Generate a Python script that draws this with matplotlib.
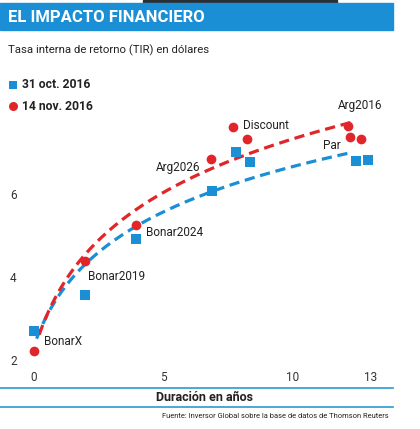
import numpy as np
import matplotlib.pyplot as plt
from matplotlib.patches import Rectangle
from matplotlib.lines import Line2D

# duracion (años) y TIR (%)
dur_oct = [0.0, 1.97, 3.94, 6.87, 7.80, 8.34, 12.43, 12.90]
tir_oct = [2.70, 3.57, 4.92, 6.07, 7.01, 6.77, 6.80, 6.82]
dur_nov = [0.0, 1.97, 3.94, 6.83, 7.68, 8.22, 12.12, 12.20, 12.63]
tir_nov = [2.22, 4.39, 5.25, 6.84, 7.61, 7.33, 7.64, 7.37, 7.33]

# etiquetas: (nombre, indice del punto de nov., offset px, alineacion)
etiquetas = [
    ("BonarX", 0, (10, 9), "left"),
    ("Bonar2019", 1, (3, -16), "left"),
    ("Bonar2024", 2, (10, -7), "left"),
    ("Arg2026", 3, (-11, -8), "right"),
    ("Discount", 4, (10, 2), "left"),
    ("Arg2016", 6, (12, 20), "center"),
    ("Par", 7, (-18, -8), "center"),
]
xticks = [0, 5, 10, 13]
yticks = [2, 4, 6]

AZUL = "#1b8fd6"
ROJO = "#e0262b"
LINEA = "#2b9ad0"
TXT = "#222222"
COND = ["Liberation Sans Narrow", "Roboto", "DejaVu Sans"]
REG = ["Roboto", "DejaVu Sans"]

W, H = 420, 429
fig = plt.figure(figsize=(W / 100, H / 100), dpi=100)


def fx(px):
    return px / W


def fy(py):
    return 1 - py / H


# cabecera
fig.patches.append(Rectangle((fx(143), fy(3)), fx(194), 3 / H, transform=fig.transFigure,
                             color="#2a2f36", zorder=0))
fig.patches.append(Rectangle((0, fy(30)), fx(393), 27 / H, transform=fig.transFigure,
                             color=AZUL, zorder=0))
fig.text(fx(8), fy(17), "EL IMPACTO FINANCIERO", color="white", fontsize=12,
         fontweight="bold", family=COND, va="center", ha="left")
fig.text(fx(8), fy(50), "Tasa interna de retorno (TIR) en dólares", color=TXT,
         fontsize=8.2, family=REG, va="center", ha="left")

# ejes
x0, x1 = -0.4, 13.4
y0, y1 = 1.9, 8.2
left = 34 + x0 * 25.9
right = 34 + x1 * 25.9
bot = 360 - (y0 - 2) * 41.5
top = 360 - (y1 - 2) * 41.5
ax = fig.add_axes([fx(left), fy(bot), fx(right - left), (bot - top) / H])
ax.set_xlim(x0, x1)
ax.set_ylim(y0, y1)
for s in ax.spines.values():
    s.set_visible(False)
ax.set_xticks(xticks)
ax.set_yticks(yticks)
ax.tick_params(length=0, labelsize=8.5, labelcolor="#333333", pad=5)
for lab in ax.get_xticklabels() + ax.get_yticklabels():
    lab.set_family(REG)

# tendencias logaritmicas
c_oct = np.polyfit(np.log1p(dur_oct), tir_oct, 1)
c_nov = np.polyfit(np.log1p(dur_nov), tir_nov, 1)
xs_oct = np.linspace(0.1, 12.2, 200)
xs_nov = np.linspace(0.2, 12.4, 200)
ax.plot(xs_oct, np.polyval(c_oct, np.log1p(xs_oct)), color=AZUL, lw=2.3,
        dashes=(3.2, 1.8), zorder=2)
ax.plot(xs_nov, np.polyval(c_nov, np.log1p(xs_nov)), color=ROJO, lw=2.3,
        dashes=(3.2, 1.8), zorder=2)

ax.plot(dur_oct, tir_oct, "s", color=AZUL, ms=6.5, mew=0, zorder=3)
ax.plot(dur_nov, tir_nov, "o", color=ROJO, ms=7, mew=0, zorder=3)

for nombre, i, (dx, dy), ha in etiquetas:
    ax.annotate(nombre, (dur_nov[i], tir_nov[i]), xytext=(dx * 0.72, dy * 0.72),
                textcoords="offset points", ha=ha, va="center", fontsize=8.5,
                family=REG, color=TXT)

# leyenda
fig.lines.append(Line2D([fx(13)], [fy(85)], marker="s", color=AZUL, ms=5.5, mew=0,
                        transform=fig.transFigure))
fig.lines.append(Line2D([fx(13)], [fy(106)], marker="o", color=ROJO, ms=6.5, mew=0,
                        transform=fig.transFigure))
fig.text(fx(22), fy(85), "31 oct. 2016", fontsize=8.7, fontweight="bold", family=COND,
         color=TXT, va="center")
fig.text(fx(22), fy(106), "14 nov. 2016", fontsize=8.7, fontweight="bold", family=COND,
         color=TXT, va="center")

# pie
for py in (388, 407):
    fig.lines.append(Line2D([0, fx(393)], [fy(py), fy(py)], color=LINEA, lw=1.2,
                            transform=fig.transFigure))
fig.text(fx(205), fy(397.5), "Duración en años", fontsize=9, fontweight="bold",
         family=COND, color=TXT, ha="center", va="center")
fig.text(fx(389), fy(416), "Fuente: Inversor Global sobre la base de datos de Thomson Reuters",
         fontsize=5.4, family=COND, color=TXT, ha="right", va="center")

fig.savefig("out.png", dpi=100)
